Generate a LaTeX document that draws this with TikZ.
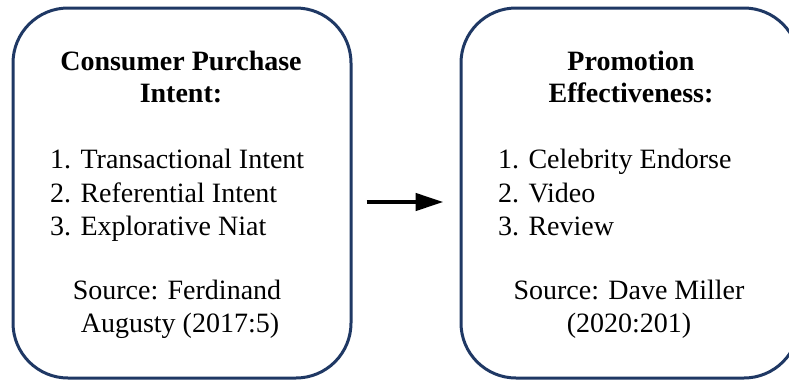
\documentclass[tikz,border=0pt]{standalone}
\usepackage{fontspec}
\setmainfont{Liberation Serif}
\usetikzlibrary{arrows.meta}
\definecolor{navy}{HTML}{1F3864}
\tikzset{
  card/.style={draw=navy, line width=3pt, rounded corners=55pt, minimum width=338pt, minimum height=370pt, inner sep=0pt},
  ttl/.style={anchor=base, inner sep=0pt, font=\fontsize{28}{32}\selectfont\bfseries},
  itm/.style={anchor=base west, inner sep=0pt, font=\fontsize{28}{32}\selectfont},
  src/.style={anchor=base, inner sep=0pt, font=\fontsize{28}{32}\selectfont},
  link/.style={line width=4.5pt, -{Triangle[length=28pt,width=17pt]}}
}
\begin{document}
\begin{tikzpicture}[x=1pt,y=-1pt]
\useasboundingbox (0,0) rectangle (789,381);
\clip (0,0) rectangle (789,381);
\node[card] (L) at (182,193) {};
\node[card] (R) at (630,193) {};
% left texts
\node[ttl] (lt1) at (181,70) {Consumer Purchase};
\node[ttl] (lt2) at (181,102) {Intent:};
\node[itm] (li1) at (50,168) {1. Transactional Intent};
\node[itm] (li2) at (50,202) {2. Referential Intent};
\node[itm] (li3) at (50,235) {3. Explorative Niat};
\node[src] (ls1) at (177,299) {Source: Ferdinand};
\node[src] (ls2) at (180,332) {Augusty (2017:5)};
% right texts
\node[ttl] (rt1) at (631,70) {Promotion};
\node[ttl] (rt2) at (631,102) {Effectiveness:};
\node[itm] (ri1) at (498,168) {1. Celebrity Endorse};
\node[itm] (ri2) at (498,202) {2. Video};
\node[itm] (ri3) at (498,235) {3. Review};
\node[src] (rs1) at (629,299) {Source: Dave Miller};
\node[src] (rs2) at (629,332) {(2020:201)};
% arrow
\draw[link, shorten <=14pt, shorten >=16pt] ([yshift=-9pt]L.east) -- ([yshift=-9pt]R.west);
\end{tikzpicture}
\end{document}
